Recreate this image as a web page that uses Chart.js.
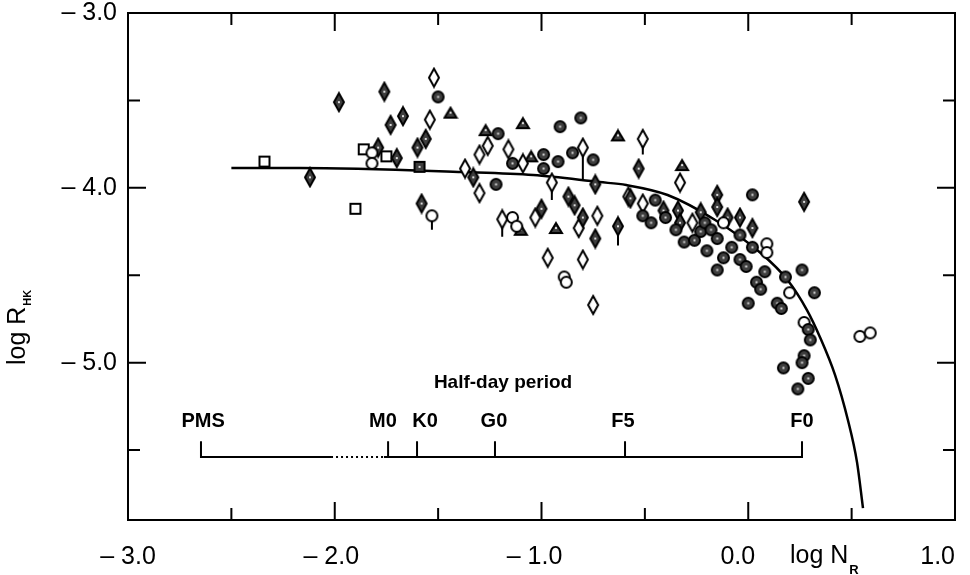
<!DOCTYPE html>
<html>
<head>
<meta charset="utf-8">
<script src="https://cdn.jsdelivr.net/npm/chart.js@4.4.0/dist/chart.umd.min.js"></script>
<style>
  html, body { margin: 0; padding: 0; background: #fff; }
</style>
</head>
<body>
<canvas id="chart" width="970" height="575"></canvas>
<script>
// --- axes ---
const xTickValues = [-3, -2.5, -2, -1.5, -1, -0.5, 0, 0.5, 1];
const yTickValues = [-5.5, -5, -4.5, -4, -3.5, -3];
const xLabelValues = [-3, -2, -1, 0, 1];
const xLabelTexts = ['– 3.0', '– 2.0\u00a0', '– 1.0\u00a0\u00a0', '0.0\u00a0\u00a0\u00a0', '1.0\u00a0\u00a0\u00a0\u00a0\u00a0'];
const yLabelValues = [-5, -4, -3];
const yLabelTexts = ['– 5.0', '– 4.0', '– 3.0'];

// --- model curve ---
const curveX = [-2.5, -2.17, -1.38, -1.04, -0.72, -0.59, -0.39, -0.16, 0.06, 0.19, 0.284, 0.347, 0.42, 0.482, 0.526, 0.555];
const curveY = [-3.887, -3.887, -3.91, -3.927, -3.967, -3.984, -4.041, -4.184, -4.373, -4.527, -4.699, -4.854, -5.071, -5.328, -5.569, -5.832];

// --- stars ---
const filledCircles = [
  [-1.50, -3.48], [-1.21, -3.69], [-1.22, -3.98], [-1.14, -3.86], [-0.99, -3.81], [-0.99, -3.89],
  [-0.92, -3.85], [-0.91, -3.65], [-0.81, -3.60], [-0.85, -3.80], [-0.75, -3.84], [-0.51, -4.16],
  [-0.47, -4.20], [-0.45, -4.07], [-0.40, -4.17], [-0.35, -4.24], [-0.31, -4.31], [-0.26, -4.30],
  [-0.23, -4.25], [-0.21, -4.20], [-0.20, -4.36], [-0.18, -4.24], [-0.15, -4.29], [-0.12, -4.40],
  [-0.08, -4.34], [-0.04, -4.27], [0.02, -4.34], [0.02, -4.04], [-0.15, -4.47], [-0.04, -4.41],
  [-0.01, -4.45], [0.08, -4.48], [0.26, -4.47], [0.04, -4.54], [0.06, -4.58], [0.18, -4.51],
  [0.32, -4.60], [0.00, -4.66], [0.14, -4.66], [0.16, -4.69], [0.29, -4.81], [0.30, -4.87],
  [0.27, -4.96], [0.26, -5.00], [0.17, -5.03], [0.29, -5.09], [0.24, -5.15]
];
const openCircles = [
  [-1.82, -3.80], [-1.82, -3.86], [-1.53, -4.16], [-1.14, -4.17], [-1.12, -4.22], [-0.89, -4.51],
  [-0.88, -4.54], [-0.12, -4.20], [0.09, -4.32], [0.09, -4.37], [0.20, -4.60], [0.27, -4.77],
  [0.54, -4.85], [0.59, -4.83]
];
const filledDiamonds = [
  [-2.12, -3.94], [-1.98, -3.51], [-1.76, -3.45], [-1.73, -3.64], [-1.67, -3.59], [-1.60, -3.77],
  [-1.56, -3.72], [-1.79, -3.77], [-1.70, -3.83], [-1.58, -4.09], [-1.33, -3.94], [-1.00, -4.12],
  [-0.80, -4.17], [-0.87, -4.05], [-0.84, -4.10], [-0.74, -3.98], [-0.74, -4.29], [-0.63, -4.22],
  [-0.53, -3.89], [-0.57, -4.06], [-0.41, -4.13], [-0.34, -4.13], [-0.33, -4.20], [-0.23, -4.14],
  [-0.15, -4.04], [-0.15, -4.11], [-0.10, -4.17], [-0.04, -4.17], [0.02, -4.23], [0.27, -4.08]
];
const openDiamonds = [
  [-1.52, -3.37], [-1.54, -3.61], [-1.37, -3.89], [-1.30, -4.03], [-1.26, -3.76], [-1.30, -3.81],
  [-1.16, -3.78], [-1.09, -3.86], [-0.80, -3.77], [-0.95, -3.97], [-1.19, -4.18], [-1.03, -4.17],
  [-0.82, -4.23], [-0.73, -4.16], [-0.97, -4.40], [-0.80, -4.41], [-0.75, -4.67], [-0.58, -4.05],
  [-0.51, -3.72], [-0.33, -3.97], [-0.51, -4.09], [-0.27, -4.20]
];
const triangles = [
  [-1.44, -3.57], [-1.27, -3.67], [-1.09, -3.63], [-1.05, -3.82], [-1.10, -4.24], [-0.93, -4.23],
  [-0.63, -3.70], [-0.32, -3.87]
];
const openSquares = [[-2.34, -3.85], [-1.90, -4.12], [-1.86, -3.78], [-1.75, -3.82]];
const filledSquares = [[-1.59, -3.88]];
// downward tails: x, top, bottom
const tails = [
  [-1.53, -4.16, -4.24], [-0.63, -4.22, -4.33], [-0.80, -3.77, -3.95],
  [-0.95, -3.97, -4.07], [-1.19, -4.18, -4.28], [-0.51, -3.72, -3.81]
];

// --- half-day period bracket ---
const bracketLabels = ['PMS', 'M0', 'K0', 'G0', 'F5', 'F0'];
const bracketTickX = [-2.647, -1.742, -1.602, -1.225, -0.596, 0.26];
const bracketLabelX = [-2.637, -1.767, -1.563, -1.230, -0.606, 0.26];
const dottedSpan = [-2.018, -1.762];
const bracketY = -5.54;
const bracketTickTop = -5.45;
const bracketLabelY = -5.334;
const bracketTitle = 'Half-day period';
const bracketTitleX = -1.186;
const bracketTitleY = -5.117;

const FONT = '"Liberation Sans", Arial, Helvetica, sans-serif';

function pts(arr) { return arr.map(p => ({ x: p[0], y: p[1] })); }

function makeMarker(shape, filled) {
  const sizes = { circle: [11, 11], diamond: [10, 18], triangle: [12, 10], square: [10, 10] };
  const [w, h] = sizes[shape];
  const c = document.createElement('canvas');
  c.width = w + 4; c.height = h + 4;
  const g = c.getContext('2d');
  const cx = c.width / 2, cy = c.height / 2;
  g.lineWidth = 2;
  g.strokeStyle = '#000';
  g.fillStyle = filled ? '#3e3e3e' : '#fff';
  g.beginPath();
  if (shape === 'circle') {
    g.arc(cx, cy, w / 2, 0, Math.PI * 2);
  } else if (shape === 'diamond') {
    g.moveTo(cx, cy - h / 2); g.lineTo(cx + w / 2, cy); g.lineTo(cx, cy + h / 2); g.lineTo(cx - w / 2, cy); g.closePath();
  } else if (shape === 'triangle') {
    g.moveTo(cx, cy - h / 2); g.lineTo(cx + w / 2, cy + h / 2); g.lineTo(cx - w / 2, cy + h / 2); g.closePath();
  } else {
    g.rect(cx - w / 2, cy - h / 2, w, h);
  }
  g.fill(); g.stroke();
  if (filled) {
    g.fillStyle = '#ddd';
    g.fillRect(cx - 1, cy - 1, 2, 2);
  }
  return c;
}

function starSet(arr, shape, filled) {
  return {
    data: pts(arr),
    pointStyle: makeMarker(shape, filled),
    pointRadius: 6,
    showLine: false
  };
}

// tails and bracket pieces as broken polylines
const tailData = [];
tails.forEach(t => { tailData.push({ x: t[0], y: t[1] }, { x: t[0], y: t[2] }, { x: t[0], y: null }); });

const bracketData = [
  { x: bracketTickX[0], y: bracketTickTop }, { x: bracketTickX[0], y: bracketY }, { x: dottedSpan[0], y: bracketY },
  { x: dottedSpan[0], y: null },
  { x: dottedSpan[1], y: bracketY }, { x: bracketTickX[5], y: bracketY }, { x: bracketTickX[5], y: bracketTickTop },
  { x: bracketTickX[5], y: null }
];
bracketTickX.slice(1, 5).forEach(x => { bracketData.push({ x, y: bracketY }, { x, y: bracketTickTop }, { x, y: null }); });

const lineSet = (data, extra) => Object.assign({
  data, showLine: true, pointRadius: 0, borderColor: '#000', borderWidth: 2, spanGaps: false, fill: false
}, extra);

const frameAndText = {
  id: 'frameAndText',
  afterDraw(chart) {
    const { ctx, chartArea: a, scales: { x, y } } = chart;
    ctx.save();
    ctx.strokeStyle = '#000';
    ctx.lineWidth = 2;
    ctx.strokeRect(a.left, a.top, a.right - a.left, a.bottom - a.top);
    ctx.beginPath();
    xTickValues.forEach(v => {
      if (v === x.min || v === x.max) return;
      const px = x.getPixelForValue(v);
      const len = Number.isInteger(v) ? 18 : 12;
      ctx.moveTo(px, a.bottom); ctx.lineTo(px, a.bottom - len);
      ctx.moveTo(px, a.top); ctx.lineTo(px, a.top + len);
    });
    yTickValues.forEach(v => {
      if (v === y.max) return;
      const py = y.getPixelForValue(v);
      const len = Number.isInteger(v) ? 18 : 12;
      ctx.moveTo(a.left, py); ctx.lineTo(a.left + len, py);
      ctx.moveTo(a.right, py); ctx.lineTo(a.right - len, py);
    });
    ctx.stroke();

    ctx.fillStyle = '#000';
    ctx.textBaseline = 'middle';
    ctx.textAlign = 'center';
    ctx.font = 'bold 20px ' + FONT;
    bracketLabels.forEach((t, i) => {
      ctx.fillText(t, x.getPixelForValue(bracketLabelX[i]), y.getPixelForValue(bracketLabelY));
    });
    ctx.font = 'bold 19px ' + FONT;
    ctx.fillText(bracketTitle, x.getPixelForValue(bracketTitleX), y.getPixelForValue(bracketTitleY));

    // x title, inline with tick labels
    ctx.textAlign = 'left';
    ctx.textBaseline = 'alphabetic';
    ctx.font = '25px ' + FONT;
    const xt = 'log N';
    const xl = 790;
    ctx.fillText(xt, xl, 563);
    const xw = ctx.measureText(xt).width;
    ctx.font = 'bold 13px ' + FONT;
    ctx.fillText('R', xl + xw + 1, 574);

    // y title, rotated
    ctx.translate(25, 365);
    ctx.rotate(-Math.PI / 2);
    ctx.font = '25px ' + FONT;
    ctx.fillText('log R', 0, 0);
    const yw = ctx.measureText('log R').width;
    ctx.font = 'bold 11px ' + FONT;
    ctx.fillText('HK', yw + 1, 6);
    ctx.restore();
  }
};

new Chart(document.getElementById('chart'), {
  type: 'scatter',
  data: {
    datasets: [
      starSet(filledCircles, 'circle', true),
      starSet(openCircles, 'circle', false),
      starSet(filledDiamonds, 'diamond', true),
      starSet(openDiamonds, 'diamond', false),
      starSet(triangles, 'triangle', true),
      starSet(openSquares, 'square', false),
      starSet(filledSquares, 'square', true),
      lineSet(tailData),
      lineSet(curveX.map((v, i) => ({ x: v, y: curveY[i] })), { borderWidth: 2.5, cubicInterpolationMode: 'monotone' }),
      lineSet(bracketData),
      lineSet([{ x: dottedSpan[0], y: bracketY }, { x: dottedSpan[1], y: bracketY }], { borderDash: [2, 3] })
    ]
  },
  options: {
    responsive: false,
    animation: false,
    layout: { padding: { top: 13, right: 15, left: 0, bottom: 0 } },
    plugins: { legend: { display: false }, tooltip: { enabled: false } },
    scales: {
      x: {
        type: 'linear', min: -3, max: 1,
        grid: { display: false, drawTicks: false },
        border: { display: false },
        afterBuildTicks: s => { s.ticks = xTickValues.map(v => ({ value: v })); },
        afterFit: s => { s.height = 55; s.paddingLeft = 0; s.paddingRight = 0; },
        ticks: {
          autoSkip: false, maxRotation: 0, padding: 22, color: '#000',
          font: { family: FONT, size: 25 },
          callback: v => { const i = xLabelValues.indexOf(v); return i < 0 ? '' : xLabelTexts[i]; }
        }
      },
      y: {
        type: 'linear', min: -5.9, max: -3,
        grid: { display: false, drawTicks: false },
        border: { display: false },
        afterBuildTicks: s => { s.ticks = yTickValues.map(v => ({ value: v })); },
        afterFit: s => { s.width = 128; s.paddingTop = 0; s.paddingBottom = 0; },
        ticks: {
          autoSkip: false, padding: 11, color: '#000',
          font: { family: FONT, size: 25 },
          callback: v => { const i = yLabelValues.indexOf(v); return i < 0 ? '' : yLabelTexts[i]; }
        }
      }
    }
  },
  plugins: [frameAndText]
});
</script>
</body>
</html>
